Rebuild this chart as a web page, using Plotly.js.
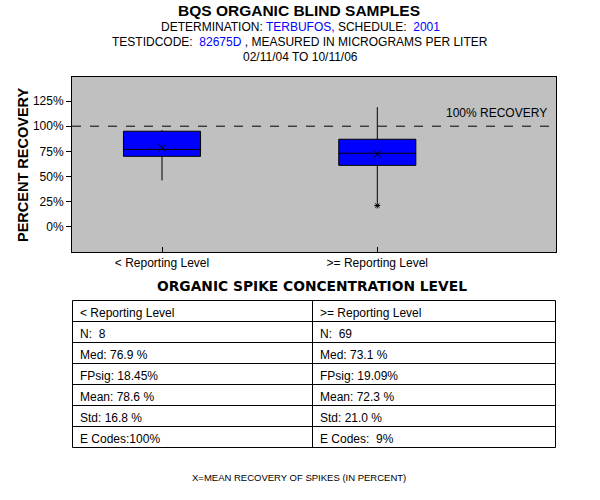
<!DOCTYPE html>
<html>
<head>
<meta charset="utf-8">
<script src="https://cdn.plot.ly/plotly-3.0.1.min.js"></script>
<style>html,body{margin:0;padding:0;background:#fff;}#chart{width:600px;height:500px;}</style>
</head>
<body>
<div id="chart"></div>
<script>
// ---- data ----
var categories = ['< Reporting Level', '>= Reporting Level'];
var q1 = [70, 61];
var medians = [76.9, 73.1];
var q3 = [95, 87];
var lowerFence = [46, 24];
var upperFence = [96, 119];
var means = [78.6, 72.3];
var outlierCats = ['>= Reporting Level'];
var outlierVals = [21];
var yTickVals = [0, 25, 50, 75, 100, 125];
var yTickText = ['0%', '25%', '50%', '75%', '100%', '125%'];
var col1 = ['< Reporting Level', 'N:  8', 'Med: 76.9 %', 'FPsig: 18.45%', 'Mean: 78.6 %', 'Std: 16.8 %', 'E Codes:100%'];
var col2 = ['>= Reporting Level', 'N:  69', 'Med: 73.1 %', 'FPsig: 19.09%', 'Mean: 72.3 %', 'Std: 21.0 %', 'E Codes:  9%'];
var recoveryLine = 100;

var W = 600, H = 500;
function px(x) { return x / W; }
function py(y) { return 1 - y / H; }
var FONT = 'Liberation Sans, Arial, sans-serif';
var BOLDFONT = 'DejaVu Sans, Liberation Sans, sans-serif';

var traces = [
  {
    type: 'box',
    x: categories,
    q1: q1, median: medians, q3: q3,
    lowerfence: lowerFence, upperfence: upperFence,
    fillcolor: '#0000FF',
    line: { color: '#000000', width: 1 },
    whiskerwidth: 0,
    width: 0.358,
    boxpoints: false,
    hoverinfo: 'skip',
    showlegend: false
  },
  {
    type: 'scatter', mode: 'markers',
    x: categories, y: means,
    marker: { symbol: 'x-thin-open', size: 7, color: '#000', line: { color: '#000', width: 1 } },
    hoverinfo: 'skip', showlegend: false
  },
  {
    type: 'scatter', mode: 'markers',
    x: outlierCats, y: outlierVals,
    marker: { symbol: 'asterisk-open', size: 5, color: '#000', line: { color: '#000', width: 1 } },
    hoverinfo: 'skip', showlegend: false
  }
];

// ---- table (built from col1/col2) ----
var tblLeft = 72.5, tblRight = 555.5, tblMid = 312.5, tblTop = 300.5, rowH = 21;
var nRows = col1.length;
var tblBottom = tblTop + nRows * rowH;
var shapes = [
  { type: 'line', xref: 'paper', x0: px(72), x1: px(556), yref: 'y', y0: recoveryLine, y1: recoveryLine,
    line: { color: '#000', width: 1, dash: 'dash' } },
  { type: 'rect', xref: 'paper', yref: 'paper', x0: px(tblLeft), x1: px(tblRight), y0: py(tblTop), y1: py(tblBottom),
    line: { color: '#000', width: 1 }, fillcolor: 'rgba(0,0,0,0)' },
  { type: 'line', xref: 'paper', yref: 'paper', x0: px(tblMid), x1: px(tblMid), y0: py(tblTop), y1: py(tblBottom),
    line: { color: '#000', width: 1 } }
];
for (var r = 1; r < nRows; r++) {
  shapes.push({ type: 'line', xref: 'paper', yref: 'paper', x0: px(tblLeft), x1: px(tblRight),
    y0: py(tblTop + r * rowH), y1: py(tblTop + r * rowH), line: { color: '#000', width: 1 } });
}
var tableAnnots = [];
[col1, col2].forEach(function (col, c) {
  col.forEach(function (txt, r) {
    tableAnnots.push({ xref: 'paper', yref: 'paper', x: px((c === 0 ? tblLeft : tblMid) + 5), y: py(tblTop + r * rowH + 12.5),
      text: txt, showarrow: false, xanchor: 'left', yanchor: 'middle',
      font: { family: FONT, size: 12, color: '#000' } });
  });
});

var layout = {
  width: W, height: H,
  margin: { l: 0, r: 0, t: 0, b: 0 },
  paper_bgcolor: '#ffffff',
  plot_bgcolor: '#C0C0C0',
  font: { family: FONT, size: 12, color: '#000' },
  showlegend: false,
  xaxis: {
    domain: [px(72), px(556)],
    type: 'category',
    categoryorder: 'array', categoryarray: categories,
    range: [-0.418, 1.83],
    showline: true, mirror: true, linecolor: '#000', linewidth: 1,
    ticks: 'inside', ticklen: 5, tickcolor: '#000',
    showgrid: false, zeroline: false,
    tickfont: { family: FONT, size: 12, color: '#000' }
  },
  yaxis: {
    domain: [py(252), py(76.5)],
    range: [-25.3, 149.5],
    tickvals: yTickVals, ticktext: yTickText,
    showline: true, mirror: true, linecolor: '#000', linewidth: 1,
    ticks: 'outside', ticklen: 5, tickcolor: '#000',
    showgrid: false, zeroline: false,
    tickfont: { family: FONT, size: 12, color: '#000' }
  },
  shapes: shapes,
  annotations: [
    { xref: 'paper', yref: 'paper', x: px(299), y: py(10.5), text: '<b>BQS ORGANIC BLIND SAMPLES</b>',
      showarrow: false, font: { family: FONT, size: 15.5, color: '#000' }, xanchor: 'center', yanchor: 'middle' },
    { xref: 'paper', yref: 'paper', x: px(300), y: py(26.5),
      text: 'DETERMINATION: <span style="color:#0000FF">TERBUFOS,</span> SCHEDULE:  <span style="color:#0000FF">2001</span>',
      showarrow: false, font: { family: FONT, size: 12, color: '#000' }, xanchor: 'center', yanchor: 'middle' },
    { xref: 'paper', yref: 'paper', x: px(300), y: py(42),
      text: 'TESTIDCODE:  <span style="color:#0000FF">82675D</span> , MEASURED IN MICROGRAMS PER LITER',
      showarrow: false, font: { family: FONT, size: 12, color: '#000' }, xanchor: 'center', yanchor: 'middle' },
    { xref: 'paper', yref: 'paper', x: px(300), y: py(57), text: '02/11/04 TO 10/11/06',
      showarrow: false, font: { family: FONT, size: 12, color: '#000' }, xanchor: 'center', yanchor: 'middle' },
    { xref: 'paper', yref: 'paper', x: px(23), y: py(165), text: '<b>PERCENT RECOVERY</b>', textangle: -90,
      showarrow: false, font: { family: FONT, size: 14.5, color: '#000' }, xanchor: 'center', yanchor: 'middle' },
    { xref: 'paper', yref: 'y', x: px(549), y: 113, text: '100% RECOVERY',
      showarrow: false, font: { family: FONT, size: 12, color: '#000' }, xanchor: 'right', yanchor: 'middle' },
    { xref: 'paper', yref: 'paper', x: px(312), y: py(286), text: '<b>ORGANIC SPIKE CONCENTRATION LEVEL</b>',
      showarrow: false, font: { family: BOLDFONT, size: 13.8, color: '#000' }, xanchor: 'center', yanchor: 'middle' },
    { xref: 'paper', yref: 'paper', x: px(299), y: py(477), text: 'X=MEAN RECOVERY OF SPIKES (IN PERCENT)',
      showarrow: false, font: { family: FONT, size: 9.5, color: '#000' }, xanchor: 'center', yanchor: 'middle' }
  ].concat(tableAnnots)
};

Plotly.newPlot('chart', traces, layout, { displayModeBar: false, staticPlot: true });
</script>
</body>
</html>
